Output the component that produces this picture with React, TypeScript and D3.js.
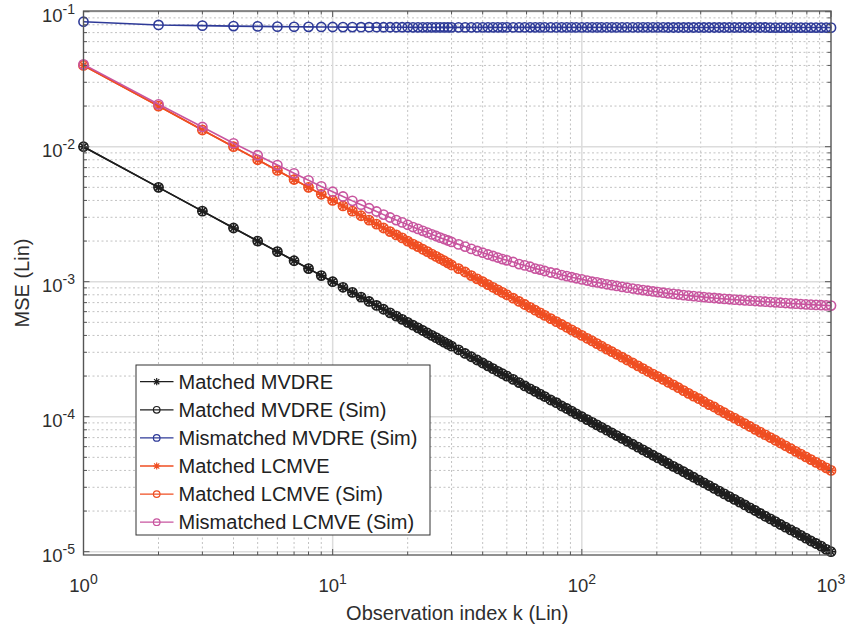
import React from 'react';
import * as d3 from 'd3';

const K = [
  1, 2, 3, 4, 5, 6, 7, 8, 9, 10,
  11, 12, 13, 14, 15, 16, 17, 18, 19, 20,
  21, 22, 23, 24, 25, 26, 27, 28, 29, 30,
  32, 34, 36, 38, 40, 42, 44, 46, 48, 50,
  53, 56, 59, 62, 65, 68, 71, 75, 79, 83,
  87, 91, 95, 100, 105, 110, 115, 120, 126, 132,
  138, 145, 152, 160, 168, 176, 184, 193, 202, 212,
  222, 233, 244, 256, 268, 281, 295, 309, 324, 340,
  356, 373, 391, 410, 430, 451, 473, 496, 520, 545,
  571, 598, 627, 657, 689, 722, 757, 793, 831, 871,
  913, 957, 1000,
];

const mseMatchedMvdre = [
  1e-2, 5e-3, 3.33e-3, 2.5e-3, 2e-3, 1.67e-3, 1.43e-3, 1.25e-3, 1.11e-3, 1e-3,
  9.09e-4, 8.33e-4, 7.69e-4, 7.14e-4, 6.67e-4, 6.25e-4, 5.88e-4, 5.56e-4, 5.26e-4, 5e-4,
  4.76e-4, 4.55e-4, 4.35e-4, 4.17e-4, 4e-4, 3.85e-4, 3.7e-4, 3.57e-4, 3.45e-4, 3.33e-4,
  3.13e-4, 2.94e-4, 2.78e-4, 2.63e-4, 2.5e-4, 2.38e-4, 2.27e-4, 2.17e-4, 2.08e-4, 2e-4,
  1.89e-4, 1.79e-4, 1.69e-4, 1.61e-4, 1.54e-4, 1.47e-4, 1.41e-4, 1.33e-4, 1.27e-4, 1.2e-4,
  1.15e-4, 1.1e-4, 1.05e-4, 1e-4, 9.52e-5, 9.09e-5, 8.7e-5, 8.33e-5, 7.94e-5, 7.58e-5,
  7.25e-5, 6.9e-5, 6.58e-5, 6.25e-5, 5.95e-5, 5.68e-5, 5.43e-5, 5.18e-5, 4.95e-5, 4.72e-5,
  4.5e-5, 4.29e-5, 4.1e-5, 3.91e-5, 3.73e-5, 3.56e-5, 3.39e-5, 3.24e-5, 3.09e-5, 2.94e-5,
  2.81e-5, 2.68e-5, 2.56e-5, 2.44e-5, 2.33e-5, 2.22e-5, 2.11e-5, 2.02e-5, 1.92e-5, 1.83e-5,
  1.75e-5, 1.67e-5, 1.59e-5, 1.52e-5, 1.45e-5, 1.39e-5, 1.32e-5, 1.26e-5, 1.2e-5, 1.15e-5,
  1.1e-5, 1.04e-5, 1e-5,
];

const mseMismatchedMvdre = [
  8.43e-2, 7.98e-2, 7.88e-2, 7.82e-2, 7.78e-2, 7.75e-2, 7.73e-2, 7.72e-2, 7.71e-2, 7.7e-2,
  7.69e-2, 7.69e-2, 7.68e-2, 7.68e-2, 7.68e-2, 7.67e-2, 7.67e-2, 7.67e-2, 7.67e-2, 7.67e-2,
  7.66e-2, 7.66e-2, 7.66e-2, 7.66e-2, 7.66e-2, 7.66e-2, 7.66e-2, 7.66e-2, 7.66e-2, 7.66e-2,
  7.66e-2, 7.66e-2, 7.66e-2, 7.66e-2, 7.66e-2, 7.66e-2, 7.66e-2, 7.66e-2, 7.66e-2, 7.66e-2,
  7.66e-2, 7.66e-2, 7.66e-2, 7.66e-2, 7.66e-2, 7.65e-2, 7.65e-2, 7.65e-2, 7.65e-2, 7.65e-2,
  7.65e-2, 7.65e-2, 7.65e-2, 7.65e-2, 7.65e-2, 7.65e-2, 7.65e-2, 7.65e-2, 7.65e-2, 7.65e-2,
  7.65e-2, 7.65e-2, 7.65e-2, 7.65e-2, 7.65e-2, 7.65e-2, 7.65e-2, 7.65e-2, 7.65e-2, 7.65e-2,
  7.64e-2, 7.64e-2, 7.64e-2, 7.64e-2, 7.64e-2, 7.64e-2, 7.64e-2, 7.64e-2, 7.64e-2, 7.64e-2,
  7.64e-2, 7.64e-2, 7.64e-2, 7.64e-2, 7.64e-2, 7.64e-2, 7.64e-2, 7.64e-2, 7.64e-2, 7.64e-2,
  7.63e-2, 7.63e-2, 7.63e-2, 7.63e-2, 7.63e-2, 7.63e-2, 7.63e-2, 7.63e-2, 7.63e-2, 7.63e-2,
  7.63e-2, 7.63e-2, 7.62e-2,
];

const mseMatchedLcmve = [
  4e-2, 2e-2, 1.33e-2, 1e-2, 8e-3, 6.67e-3, 5.71e-3, 5e-3, 4.44e-3, 4e-3,
  3.64e-3, 3.33e-3, 3.08e-3, 2.86e-3, 2.67e-3, 2.5e-3, 2.35e-3, 2.22e-3, 2.11e-3, 2e-3,
  1.9e-3, 1.82e-3, 1.74e-3, 1.67e-3, 1.6e-3, 1.54e-3, 1.48e-3, 1.43e-3, 1.38e-3, 1.33e-3,
  1.25e-3, 1.18e-3, 1.11e-3, 1.05e-3, 1e-3, 9.52e-4, 9.09e-4, 8.7e-4, 8.33e-4, 8e-4,
  7.55e-4, 7.14e-4, 6.78e-4, 6.45e-4, 6.15e-4, 5.88e-4, 5.63e-4, 5.33e-4, 5.06e-4, 4.82e-4,
  4.6e-4, 4.4e-4, 4.21e-4, 4e-4, 3.81e-4, 3.64e-4, 3.48e-4, 3.33e-4, 3.17e-4, 3.03e-4,
  2.9e-4, 2.76e-4, 2.63e-4, 2.5e-4, 2.38e-4, 2.27e-4, 2.17e-4, 2.07e-4, 1.98e-4, 1.89e-4,
  1.8e-4, 1.72e-4, 1.64e-4, 1.56e-4, 1.49e-4, 1.42e-4, 1.36e-4, 1.29e-4, 1.23e-4, 1.18e-4,
  1.12e-4, 1.07e-4, 1.02e-4, 9.76e-5, 9.3e-5, 8.87e-5, 8.46e-5, 8.06e-5, 7.69e-5, 7.34e-5,
  7.01e-5, 6.69e-5, 6.38e-5, 6.09e-5, 5.81e-5, 5.54e-5, 5.28e-5, 5.04e-5, 4.81e-5, 4.59e-5,
  4.38e-5, 4.18e-5, 4e-5,
];

const mseMismatchedLcmve = [
  4.07e-2, 2.06e-2, 1.4e-2, 1.06e-2, 8.64e-3, 7.31e-3, 6.35e-3, 5.64e-3, 5.08e-3, 4.64e-3,
  4.28e-3, 3.97e-3, 3.72e-3, 3.5e-3, 3.31e-3, 3.14e-3, 2.99e-3, 2.86e-3, 2.75e-3, 2.64e-3,
  2.54e-3, 2.46e-3, 2.38e-3, 2.31e-3, 2.24e-3, 2.18e-3, 2.12e-3, 2.07e-3, 2.02e-3, 1.97e-3,
  1.89e-3, 1.82e-3, 1.75e-3, 1.69e-3, 1.64e-3, 1.59e-3, 1.55e-3, 1.51e-3, 1.47e-3, 1.44e-3,
  1.4e-3, 1.35e-3, 1.32e-3, 1.29e-3, 1.25e-3, 1.23e-3, 1.2e-3, 1.17e-3, 1.15e-3, 1.12e-3,
  1.1e-3, 1.08e-3, 1.06e-3, 1.04e-3, 1.02e-3, 1e-3, 9.88e-4, 9.73e-4, 9.57e-4, 9.43e-4,
  9.3e-4, 9.16e-4, 9.03e-4, 8.9e-4, 8.78e-4, 8.67e-4, 8.57e-4, 8.47e-4, 8.38e-4, 8.29e-4,
  8.2e-4, 8.12e-4, 8.04e-4, 7.96e-4, 7.89e-4, 7.82e-4, 7.75e-4, 7.69e-4, 7.62e-4, 7.57e-4,
  7.51e-4, 7.46e-4, 7.41e-4, 7.36e-4, 7.32e-4, 7.27e-4, 7.23e-4, 7.19e-4, 7.15e-4, 7.11e-4,
  7.07e-4, 7.03e-4, 6.99e-4, 6.95e-4, 6.91e-4, 6.87e-4, 6.83e-4, 6.79e-4, 6.76e-4, 6.73e-4,
  6.7e-4, 6.68e-4, 6.65e-4,
];

const BLACK = '#1e1e1e';
const BLUE = '#2e3a98';
const ORANGE = '#ef4e22';
const MAGENTA = '#c8559f';

const series = [
  { name: 'Matched MVDRE', values: mseMatchedMvdre, color: BLACK, marker: 'star' },
  { name: 'Matched MVDRE (Sim)', values: mseMatchedMvdre, color: BLACK, marker: 'circle' },
  { name: 'Mismatched MVDRE (Sim)', values: mseMismatchedMvdre, color: BLUE, marker: 'circle' },
  { name: 'Matched LCMVE', values: mseMatchedLcmve, color: ORANGE, marker: 'star' },
  { name: 'Matched LCMVE (Sim)', values: mseMatchedLcmve, color: ORANGE, marker: 'circle' },
  { name: 'Mismatched LCMVE (Sim)', values: mseMismatchedLcmve, color: MAGENTA, marker: 'circle' },
];

const FONT = "'Liberation Sans', Arial, Helvetica, sans-serif";
const AXIS = '#555';
const TEXT = '#2e2e2e';

const left = 83.5;
const right = 831;
const top = 11;
const bottom = 555;

const isDecade = (v: number) => Math.abs(Math.log10(v) - Math.round(Math.log10(v))) < 1e-9;

const starPath = (a: number) => {
  const d = a * 0.72;
  return `M${-a},0H${a}M0,${-a}V${a}M${-d},${-d}L${d},${d}M${-d},${d}L${d},${-d}`;
};

const Marker = ({ type, cx, cy, color, size, sw }: any) =>
  type === 'star' ? (
    <path d={starPath(size)} transform={`translate(${cx},${cy})`} stroke={color} strokeWidth={sw} fill="none" />
  ) : (
    <circle cx={cx} cy={cy} r={size - 0.3} stroke={color} strokeWidth={sw} fill="none" />
  );

export default function App() {
  const x = d3.scaleLog().domain([1, 1000]).range([left, right]);
  const y = d3.scaleLog().domain([1e-5, 1e-1]).range([551.7, 11.7]);

  const xTicks = x.ticks();
  const yTicks = y.ticks();
  const xMajor = xTicks.filter(isDecade);
  const xMinor = xTicks.filter((t) => !isDecade(t));
  const yMajor = yTicks.filter(isDecade);
  const yMinor = yTicks.filter((t) => !isDecade(t));

  const line = d3
    .line<number>()
    .x((_, i) => x(K[i]))
    .y((d) => y(d));

  const legendX = 136;
  const legendY = 365;
  const rowH = 28.1;

  return (
    <svg
      width={848}
      height={632}
      style={{ position: 'absolute', left: 0, top: 0, background: '#fff' }}
      fontFamily={FONT}
    >
      {/* grid */}
      <g>
        {xMinor.map((t) => (
          <line key={'xm' + t} x1={x(t)} x2={x(t)} y1={top} y2={bottom} stroke="#c2c2c2" strokeDasharray="2,2.5" />
        ))}
        {yMinor.map((t) => (
          <line key={'ym' + t} x1={left} x2={right} y1={y(t)} y2={y(t)} stroke="#c2c2c2" strokeDasharray="2,2.5" />
        ))}
        {xMajor.map((t) => (
          <line key={'xM' + t} x1={x(t)} x2={x(t)} y1={top} y2={bottom} stroke="#dcdcdc" strokeWidth={1.5} />
        ))}
        {yMajor.map((t) => (
          <line key={'yM' + t} x1={left} x2={right} y1={y(t)} y2={y(t)} stroke="#dcdcdc" strokeWidth={1.5} />
        ))}
      </g>

      {/* series */}
      {series.map((s) => (
        <g key={s.name}>
          <path d={line(s.values) || ''} fill="none" stroke={s.color} strokeWidth={1.6} />
          {s.values.map((v, i) => (
            <Marker key={i} type={s.marker} cx={x(K[i])} cy={y(v)} color={s.color} size={4.9} sw={1.6} />
          ))}
        </g>
      ))}

      {/* box and ticks */}
      <rect x={left} y={top} width={right - left} height={bottom - top} fill="none" stroke={AXIS} strokeWidth={1.3} />
      <g stroke={AXIS} strokeWidth={1}>
        {xTicks.map((t) => {
          const len = isDecade(t) ? 6 : 3.5;
          return (
            <g key={'xt' + t}>
              <line x1={x(t)} x2={x(t)} y1={bottom} y2={bottom - len} />
              <line x1={x(t)} x2={x(t)} y1={top} y2={top + len} />
            </g>
          );
        })}
        {yTicks.map((t) => {
          const len = isDecade(t) ? 6 : 3.5;
          return (
            <g key={'yt' + t}>
              <line x1={left} x2={left + len} y1={y(t)} y2={y(t)} />
              <line x1={right} x2={right - len} y1={y(t)} y2={y(t)} />
            </g>
          );
        })}
      </g>

      {/* tick labels */}
      <g fill={TEXT}>
        {xMajor.map((t) => (
          <text key={'xl' + t} x={x(t)} y={591.5} textAnchor="middle" fontSize={18.5}>
            <tspan>10</tspan>
            <tspan dy={-8} fontSize={14}>{Math.round(Math.log10(t))}</tspan>
          </text>
        ))}
        {yMajor.map((t) => (
          <text key={'yl' + t} x={75} y={y(t) + 10} textAnchor="end" fontSize={18.5}>
            <tspan>10</tspan>
            <tspan dy={-8} fontSize={14}>{Math.round(Math.log10(t))}</tspan>
          </text>
        ))}
      </g>

      {/* axis labels */}
      <text x={(left + right) / 2} y={620} textAnchor="middle" fontSize={20} fill={TEXT}>
        Observation index k (Lin)
      </text>
      <text
        transform={`translate(29,${(top + bottom) / 2}) rotate(-90)`}
        textAnchor="middle"
        fontSize={20}
        fill={TEXT}
      >
        MSE (Lin)
      </text>

      {/* legend */}
      <g>
        <rect x={legendX} y={legendY} width={294} height={170} fill="#fff" stroke="#333" strokeWidth={1} />
        {series.map((s, i) => {
          const cy = legendY + 16.7 + i * rowH;
          return (
            <g key={'lg' + s.name}>
              <line x1={140} x2={173.5} y1={cy} y2={cy} stroke={s.color} strokeWidth={1.3} />
              <Marker type={s.marker} cx={156.7} cy={cy} color={s.color} size={3.6} sw={1.2} />
              <text x={178.5} y={cy + 7} fontSize={20} fill="#222">
                {s.name}
              </text>
            </g>
          );
        })}
      </g>
    </svg>
  );
}
